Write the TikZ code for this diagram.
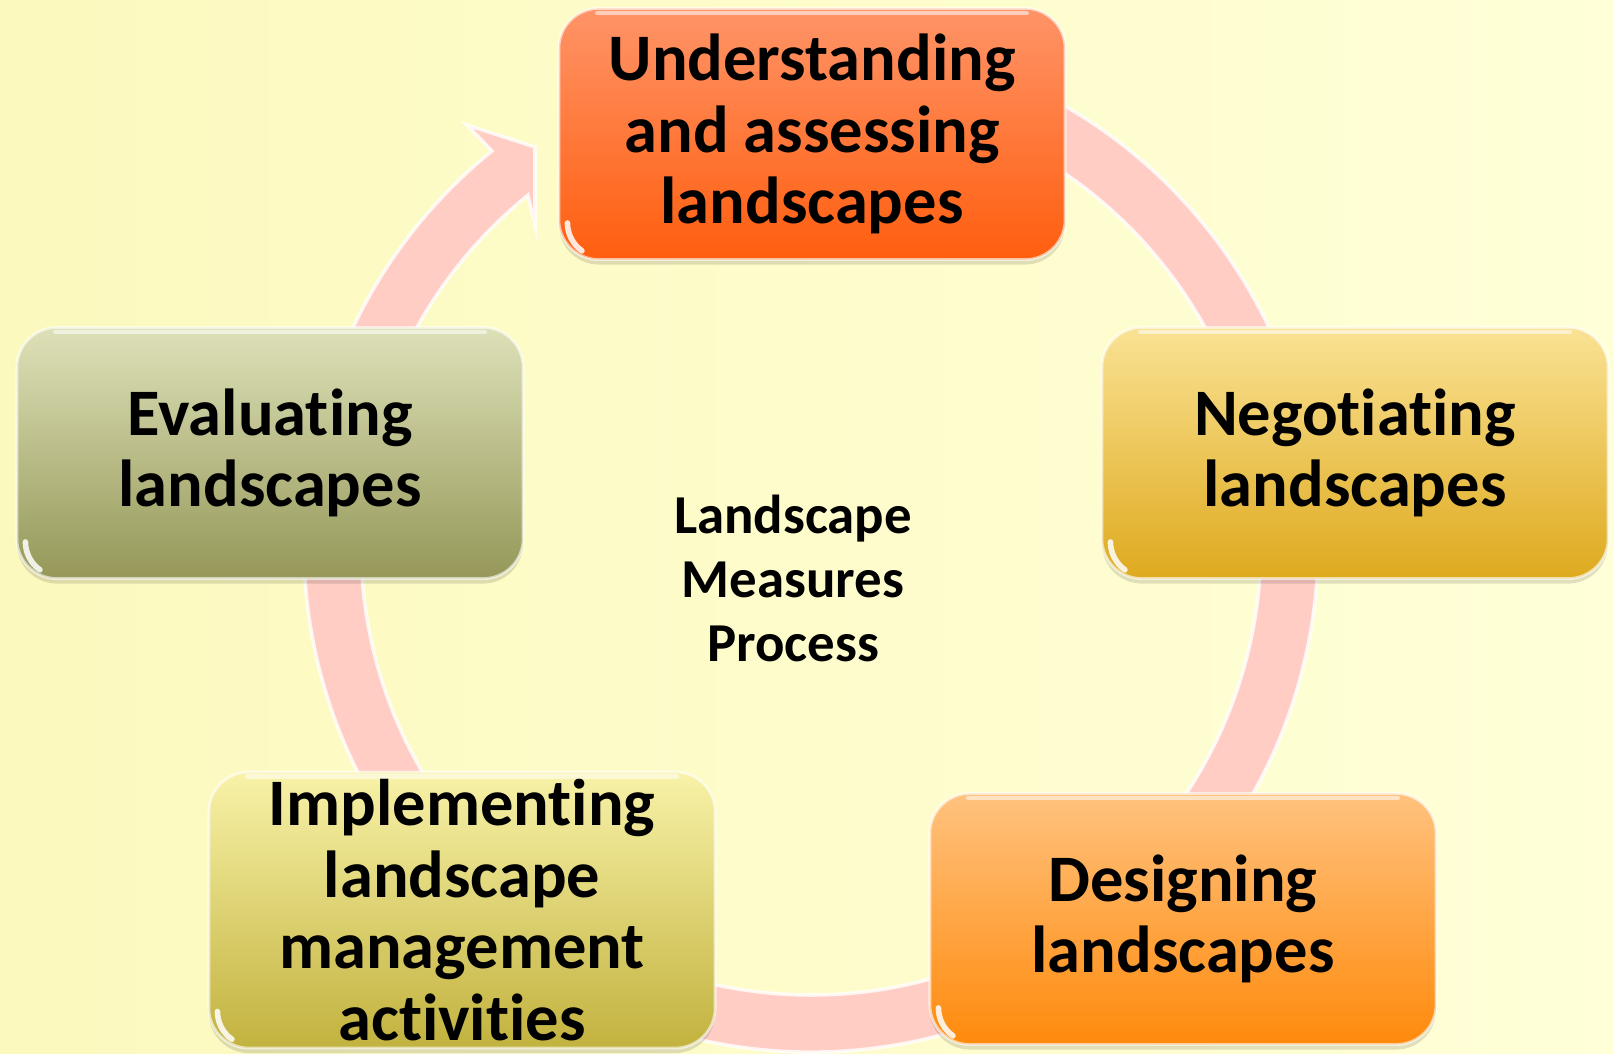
\documentclass[tikz,border=0pt]{standalone}
\usepackage{fontspec}
\setmainfont{Carlito}[RawFeature={-liga;-dlig;-clig}]
\usetikzlibrary{shadows}
\definecolor{bgL}{HTML}{FCF9BE}
\definecolor{bgR}{HTML}{FFFFD8}
\definecolor{ringc}{HTML}{FFCDC4}
\definecolor{uT}{HTML}{FF9468}
\definecolor{uB}{HTML}{FF5E0E}
\definecolor{eT}{HTML}{DEE1B8}
\definecolor{eB}{HTML}{959858}
\definecolor{nT}{HTML}{FAE294}
\definecolor{nB}{HTML}{DEAA1E}
\definecolor{dT}{HTML}{FFC27E}
\definecolor{dB}{HTML}{FF8A0C}
\definecolor{iT}{HTML}{F8F2A8}
\definecolor{iB}{HTML}{C2B23E}
\tikzset{
  stagebox/.style={rectangle, rounded corners=0.4cm, minimum width=5.06cm, minimum height=2.51cm,
    align=center, inner sep=0pt, font=\fontsize{18.9}{20.3}\selectfont\bfseries,
    draw=white, draw opacity=0.6, line width=0.8pt,
    drop shadow={shadow xshift=0pt, shadow yshift=-0.05cm, opacity=0.12, fill=black}},
  gloss/.style={white, line width=1.6pt, opacity=0.85, line cap=round},
  ringfill/.style={fill=ringc, draw=white, draw opacity=0.8, line width=1pt}
}
\begin{document}
\begin{tikzpicture}[x=0.01cm, y=0.01cm]
\useasboundingbox (0,0) rectangle (1614,1054);
\shade[left color=bgL, right color=bgR] (0,0) rectangle (1614,1054);
\coordinate (C) at (811,509);
% cycle ring with arrowhead
\path[ringfill] ([shift={(75:507)}]C) arc[start angle=75, end angle=-231, radius=507]
  -- (467,929) -- (535,907) -- (535,829)
  -- ([shift={(-231:450)}]C) arc[start angle=-231, end angle=75, radius=450] -- cycle;
% stages
\node[stagebox, top color=uT, bottom color=uB] (u) at (812,920) {Understanding\\and assessing\\landscapes};
\node[stagebox, top color=nT, bottom color=nB] (n) at (1355,601) {Negotiating\\landscapes};
\node[stagebox, top color=dT, bottom color=dB] (d) at (1183,135) {Designing\\landscapes};
\node[stagebox, top color=iT, bottom color=iB, minimum height=2.76cm] (i) at (462,144) {Implementing\\landscape\\management\\activities};
\node[stagebox, top color=eT, bottom color=eB] (e) at (270,601) {Evaluating\\landscapes};
\node[align=center, font=\fontsize{15.6}{18.2}\selectfont\bfseries] (c) at (793,476) {Landscape\\Measures\\Process};
% glossy corner highlights
\foreach \b in {u,n,d,i,e}{
  \draw[gloss] ([shift={(10,38)}]\b.south west) arc[start angle=180, end angle=235, radius=34];
  \draw[white, opacity=0.55, line width=1.4pt, line cap=round] ([shift={(40,-6)}]\b.north west) -- ([shift={(-40,-6)}]\b.north east);
}
\end{tikzpicture}
\end{document}
